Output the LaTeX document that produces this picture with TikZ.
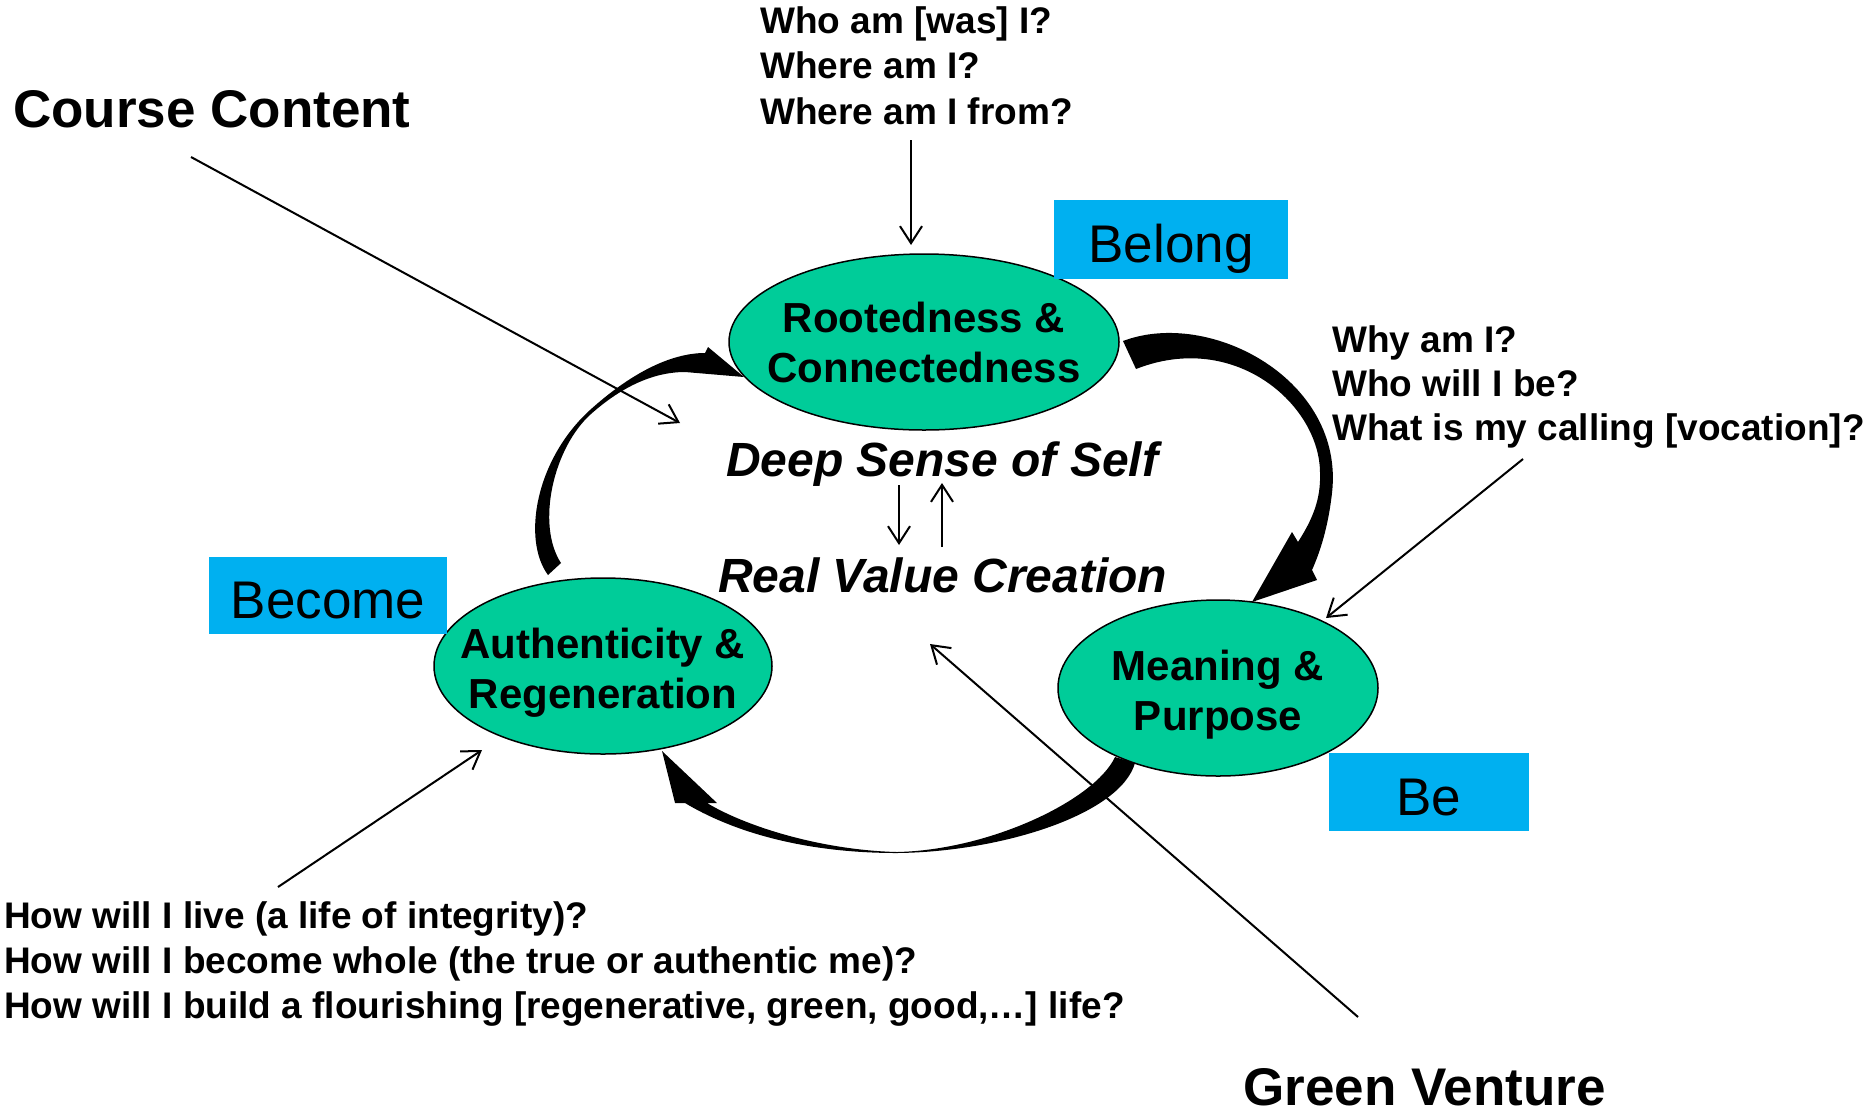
\documentclass[tikz,border=0pt]{standalone}
\usepackage{fontspec}
\setmainfont{Liberation Sans}
\usetikzlibrary{arrows.meta,shapes.geometric}
\definecolor{ovalgreen}{HTML}{00CC99}
\definecolor{boxblue}{HTML}{00B0F0}
\tikzset{
  oval/.style={ellipse, draw=black, line width=1.5pt, fill=ovalgreen, inner sep=0pt},
  ovaltext/.style={inner sep=0pt, align=center, font=\fontsize{42}{50}\selectfont\bfseries},
  tagbox/.style={rectangle, fill=boxblue, inner sep=0pt, text height=46pt, text depth=0pt,
    font=\fontsize{53}{60}\selectfont},
  qline/.style={anchor=base west, inner sep=0pt, font=\fontsize{37}{45}\selectfont\bfseries},
  bigtitle/.style={anchor=base west, inner sep=0pt, font=\fontsize{53}{60}\selectfont\bfseries},
  midtitle/.style={anchor=base west, inner sep=0pt, font=\fontsize{48}{55}\selectfont\bfseries\itshape},
  thinarrow/.style={line width=2pt, -{Straight Barb[length=17pt,width=22pt,line width=2pt]}},
  fatarrow/.style={fill=black}
}
\begin{document}
\begin{tikzpicture}[x=1pt,y=-1pt]
\useasboundingbox (0,0) rectangle (1870,1112);
\fill[white] (0,0) rectangle (1870,1112);

% ovals
\node[oval, minimum width=390pt, minimum height=176pt] (root) at (924,342) {};
\node[oval, minimum width=320pt, minimum height=176pt] (mean) at (1218,688) {};
\node[oval, minimum width=338pt, minimum height=176pt] (auth) at (603,666) {};
\node[ovaltext] (roottext) at (root.center) {Rootedness \&\\Connectedness};
\node[ovaltext, yshift=-7pt] (meantext) at (mean.center) {Meaning \&\\Purpose};
\node[ovaltext, yshift=-7pt] (authtext) at (auth.center) {Authenticity \&\\Regeneration};

% blue tags
\node[tagbox, minimum width=234pt, minimum height=79pt] (belong) at (1171,239.5) {Belong};
\node[tagbox, minimum width=238pt, minimum height=77pt] (become) at (328,595.5) {Become};
\node[tagbox, minimum width=200pt, minimum height=78pt] (be) at (1429,792) {Be};

% titles
\node[bigtitle] (course) at (13,127) {Course Content};
\node[bigtitle] (green) at (1243,1105) {Green Venture};
\node[midtitle] (deep) at (726,476) {Deep Sense of Self};
\node[midtitle] (real) at (718,592) {Real Value Creation};

% question groups
\node[qline] (t1) at (760,33) {Who am [was] I?};
\node[qline] (t2) at (760,78) {Where am I?};
\node[qline] (t3) at (760,124) {Where am I from?};

\node[qline] (r1) at (1332,352) {Why am I?};
\node[qline] (r2) at (1332,396) {Who will I be?};
\node[qline] (r3) at (1332,440) {What is my calling [vocation]?};

\node[qline] (b1) at (4,928) {How will I live (a life of integrity)?};
\node[qline] (b2) at (4,973) {How will I become whole (the true or authentic me)?};
\node[qline] (b3) at (4,1018) {How will I build a flourishing [regenerative, green, good,\dots] life?};

% connector end points
\coordinate (courseS) at (191,157);
\coordinate (courseE) at (680,423);
\coordinate (topS) at (911,140);
\coordinate (topE) at (911,245);
\coordinate (rightS) at (1523,459);
\coordinate (rightE) at (1326,618);
\coordinate (blS) at (278,887);
\coordinate (blE) at (482,750);
\coordinate (gvS) at (1358,1017);
\coordinate (gvE) at (930,644);
\coordinate (dnS) at (899,485);
\coordinate (dnE) at (899,545);
\coordinate (upS) at (942,547);
\coordinate (upE) at (942,483);

\draw[thinarrow] (courseS) -- (courseE);
\draw[thinarrow] (topS) -- (topE);
\draw[thinarrow] (rightS) -- (rightE);
\draw[thinarrow] (blS) -- (blE);
\draw[thinarrow] (gvS) -- (gvE);
\draw[thinarrow] (dnS) -- (dnE);
\draw[thinarrow] (upS) -- (upE);

% fat curved arrow: Rootedness -> Meaning
\fill[fatarrow] (1123,341) .. controls (1210,308) and (1345,380) .. (1332,493)
  .. controls (1328,528) and (1320,552) .. (1312,570)
  -- (1317,580) -- (1252,602) -- (1292,532) -- (1298,542)
  .. controls (1312,520) and (1321,500) .. (1320,473)
  .. controls (1320,405) and (1235,330) .. (1136,369) -- cycle;

% fat curved arrow: Meaning -> Authenticity
\fill[fatarrow] (1135,763) .. controls (1120,815) and (1000,852) .. (897,853)
  .. controls (800,853) and (730,830) .. (685,803)
  -- (675,803) -- (662,751) -- (717,803) -- (707,803)
  .. controls (745,826) and (820,850) .. (897,852)
  .. controls (990,850) and (1095,800) .. (1115,757) -- cycle;

% fat curved arrow: Authenticity -> Rootedness
\fill[fatarrow] (548,575) .. controls (522,540) and (535,460) .. (590,410)
  .. controls (630,374) and (670,353) .. (705,353)
  -- (708,347) -- (744,377) -- (685,372)
  .. controls (650,372) and (618,390) .. (591,414)
  .. controls (553,448) and (536,525) .. (561,563) -- cycle;

\end{tikzpicture}
\end{document}
